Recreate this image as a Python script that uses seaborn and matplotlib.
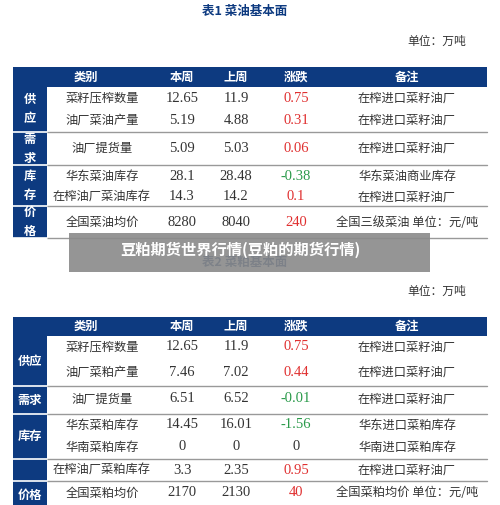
import matplotlib
matplotlib.use("Agg")
import matplotlib.pyplot as plt
import seaborn as sns
from matplotlib.patches import Rectangle

sns.set_style("white")
plt.rcParams['font.family'] = ['Noto Sans CJK SC', 'DejaVu Sans']

BLUE = "#0d3a80"
RED = "#e03030"
GREEN = "#2a9a4a"
TEXT = "#333333"

HEADERS = ["类别", "本周", "上周", "涨跌", "备注"]
HEAD_X = [86, 182, 236, 296, 407]
COL_X = [102, 182, 236, 296, 407]

# table 1
T1_TITLE = "表1 菜油基本面"
T1_GROUPS = [("供\n应", 2), ("需\n求", 1), ("库\n存", 2), ("价\n格", 1)]
T1_ITEMS = ["菜籽压榨数量", "油厂菜油产量", "油厂提货量", "华东菜油库存", "在榨油厂菜油库存", "全国菜油均价"]
T1_THIS = ["12.65", "5.19", "5.09", "28.1", "14.3", "8280"]
T1_LAST = ["11.9", "4.88", "5.03", "28.48", "14.2", "8040"]
T1_CHG = ["0.75", "0.31", "0.06", "-0.38", "0.1", "240"]
T1_NOTE = ["在榨进口菜籽油厂", "在榨进口菜籽油厂", "在榨进口菜籽油厂", "华东菜油商业库存",
           "在榨进口菜籽油厂", "全国三级菜油 单位：元/吨"]

# table 2
T2_TITLE = "表2 菜粕基本面"
T2_GROUPS = [("供应", 2), ("需求", 1), ("库存", 2), ("", 1), ("价格", 1)]
T2_ITEMS = ["菜籽压榨数量", "油厂菜粕产量", "油厂提货量", "华东菜粕库存", "华南菜粕库存",
            "在榨油厂菜粕库存", "全国菜粕均价"]
T2_THIS = ["12.65", "7.46", "6.51", "14.45", "0", "3.3", "2170"]
T2_LAST = ["11.9", "7.02", "6.52", "16.01", "0", "2.35", "2130"]
T2_CHG = ["0.75", "0.44", "-0.01", "-1.56", "0", "0.95", "40"]
T2_NOTE = ["在榨进口菜籽油厂", "在榨进口菜籽油厂", "在榨进口菜籽油厂", "华东进口菜粕库存",
           "华南进口菜粕库存", "在榨进口菜籽油厂", "全国菜粕均价 单位：元/吨"]


def chg_color(s):
    v = float(s)
    return RED if v > 0 else (GREEN if v < 0 else TEXT)


def draw_table(ax, title, title_y, unit_y, head_top, head_bot, groups, group_bounds,
               row_ys, items, this, last, chg, note, fs=8.8, nfs=10.5):
    ax.text(245, title_y, title, ha="center", va="center", color=BLUE,
            fontsize=9, fontweight="bold")
    ax.text(437, unit_y, "单位：万吨", ha="center", va="center", color=TEXT, fontsize=8.5)
    ax.add_patch(Rectangle((13, head_top), 474, head_bot - head_top, color=BLUE, lw=0))
    for x, h in zip(HEAD_X, HEADERS):
        ax.text(x, (head_top + head_bot) / 2, h, ha="center", va="center",
                color="white", fontsize=fs, fontweight="bold")
    for (lab, _), (y0, y1) in zip(groups, group_bounds):
        ax.add_patch(Rectangle((13, y0), 34, y1 - y0, color=BLUE, lw=0))
        ax.text(30, (y0 + y1) / 2, lab, ha="center", va="center", color="white",
                fontsize=fs, fontweight="bold", linespacing=1.6)
        ax.plot([47, 487], [y1, y1], color="#999999", lw=1)
        ax.plot([13, 47], [y1, y1], color="white", lw=1.2)
    for i, y in enumerate(row_ys):
        ax.text(COL_X[0], y, items[i], ha="center", va="center", color=TEXT, fontsize=fs)
        ax.text(COL_X[1], y, this[i], ha="center", va="center", color=TEXT, fontsize=nfs,
                family="Liberation Serif")
        ax.text(COL_X[2], y, last[i], ha="center", va="center", color=TEXT, fontsize=nfs,
                family="Liberation Serif")
        ax.text(COL_X[3], y, chg[i], ha="center", va="center", color=chg_color(chg[i]),
                fontsize=nfs, family="Liberation Serif")
        ax.text(COL_X[4], y, note[i], ha="center", va="center", color=TEXT, fontsize=fs)


fig = plt.figure(figsize=(5.0, 5.05), dpi=100)
ax = fig.add_axes([0, 0, 1, 1])
ax.set_xlim(0, 500)
ax.set_ylim(505, 0)
ax.axis("off")

draw_table(ax, T1_TITLE, 11, 41, 67, 87, T1_GROUPS,
           [(87, 132), (132, 165), (165, 206), (206, 238)],
           [98, 120, 148, 176, 197, 222],
           T1_ITEMS, T1_THIS, T1_LAST, T1_CHG, T1_NOTE)
draw_table(ax, T2_TITLE, 262, 291, 317, 336, T2_GROUPS,
           [(336, 386), (386, 414), (414, 459), (459, 481), (481, 510)],
           [347, 372, 399, 425, 447, 470, 493],
           T2_ITEMS, T2_THIS, T2_LAST, T2_CHG, T2_NOTE)

# grey banner overlay
ax.add_patch(Rectangle((69, 233), 361, 39, color="#8a8a8a", alpha=0.9, lw=0, zorder=5))
ax.text(240, 250, "豆粕期货世界行情(豆粕的期货行情)", ha="center", va="center",
        color="white", fontsize=11, fontweight="bold", zorder=6)

fig.savefig("out.png", dpi=100)
